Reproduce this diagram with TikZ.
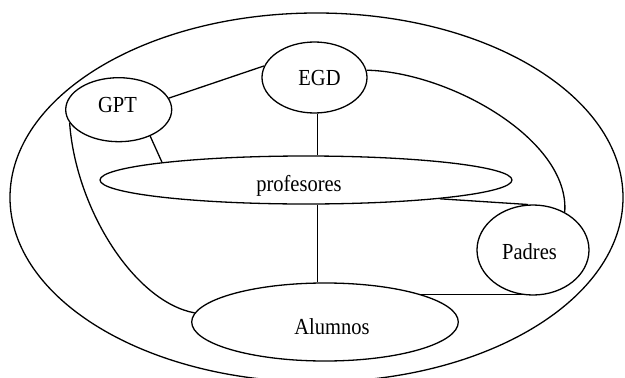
\documentclass[tikz,border=0pt]{standalone}
\usepackage{fontspec}
\setmainfont{Liberation Serif}
\usetikzlibrary{shapes.geometric}
% slightly tall lettering for the labels
\newcommand\tallword[1]{\scalebox{1}[1.12]{#1}}
\begin{document}
\begin{tikzpicture}[x=1pt,y=-1pt,
  line width=1.3pt,
  blob/.style={draw, ellipse, inner sep=0pt},
  lbl/.style={inner sep=0pt, font=\fontsize{20.5}{24}\selectfont}]
\useasboundingbox (0,0) rectangle (625,378);

% enclosing ellipse
\node[blob, minimum width=613, minimum height=369] (world) at (316.5,197.5) {};

% groups
\node[blob, minimum width=105, minimum height=71]  (egd)    at (314.5,77.5) {};
\node[blob, minimum width=106, minimum height=64]  (gpt)    at (118.7,109.7) {};
\node[blob, minimum width=412, minimum height=48]  (prof)   at (306,180) {};
\node[blob, minimum width=112, minimum height=90]  (padres) at (533,250) {};
\node[blob, minimum width=266.6, minimum height=78] (alum)  at (325,322) {};

% labels
\node[lbl] (egd-t)    at (319.5,78.5)  {\tallword{EGD}};
\node[lbl] (gpt-t)    at (117.5,105.5) {\tallword{GPT}};
\node[lbl] (prof-t)   at (299,185.5)   {\tallword{profesores}};
\node[lbl] (padres-t) at (529.5,252)   {\tallword{Padres}};
\node[lbl] (alum-t)   at (332,326.5)   {\tallword{Alumnos}};

% links
\draw (gpt.13) -- (egd.167);
\draw (gpt.-40) -- (prof.173);
\draw (egd.-85) -- (egd.-85 |- prof.north);
\draw (prof.south -| egd.-85) -- (alum.north -| egd.-85);
\draw (egd.8) .. controls (450,72) and (570,140) .. (padres.50);
\draw (gpt.195) .. controls (76,210) and (135,302) .. (alum.176);
\draw (prof.-8) -- (padres.96);
\draw (alum.16) -- (alum.16 -| padres.-104);
\end{tikzpicture}
\end{document}
